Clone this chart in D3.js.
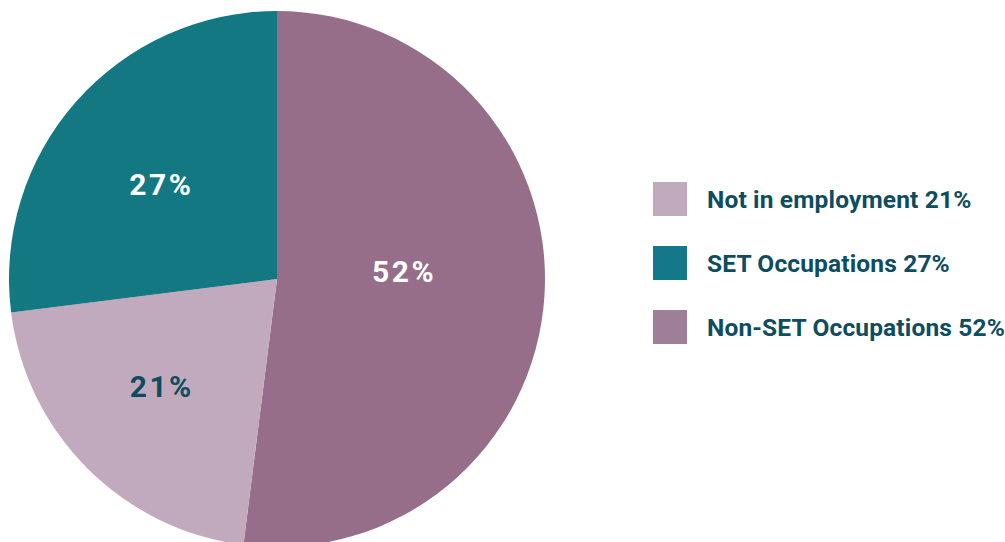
<!DOCTYPE html>
<html>
<head>
<meta charset="utf-8">
<script src="https://cdn.jsdelivr.net/npm/d3@7"></script>
<style>
  html, body { margin: 0; padding: 0; background: #ffffff; }
  svg { display: block; }
</style>
</head>
<body>
<svg id="chart" width="1005" height="542"></svg>
<script>
// Data (drawing order: clockwise from top)
const pieCategories = ["Non-SET Occupations", "Not in employment", "SET Occupations"];
const pieValues = [52, 21, 27];
const pieColors = ["#966e8a", "#c2aabe", "#137882"];
const labelColors = ["#ffffff", "#0e4d5f", "#ffffff"];

// Legend order
const legendCategories = ["Not in employment", "SET Occupations", "Non-SET Occupations"];
const legendValues = [21, 27, 52];
const legendColors = ["#c2aabe", "#15788a", "#9f7e9a"];

const svg = d3.select("#chart");
const cx = 277, cy = 279, R = 268;
// label placement style: radius (fraction of R) and angle offset (degrees) from slice mid-angle
const labelRadiusFactor = [0.475, 0.59, 0.555];
const labelAngleOffset = [-6.8, 1.8, -2.4];

const pie = d3.pie().sort(null).value(d => d.value);
const data = pieCategories.map((c, i) => ({ name: c, value: pieValues[i], color: pieColors[i], labelColor: labelColors[i], lf: labelRadiusFactor[i], ao: labelAngleOffset[i] }));
const arcs = pie(data);
const arc = d3.arc().innerRadius(0).outerRadius(R);

const g = svg.append("g").attr("transform", `translate(${cx},${cy})`);
g.selectAll("path.slice").data(arcs).enter().append("path")
  .attr("class", "slice")
  .attr("d", arc)
  .attr("fill", d => d.data.color);

g.selectAll("text.lbl").data(arcs).enter().append("text")
  .attr("class", "lbl")
  .attr("transform", d => {
    const r = R * d.data.lf;
    const a = (d.startAngle + d.endAngle) / 2 + d.data.ao * Math.PI / 180;
    return `translate(${r * Math.sin(a)},${-r * Math.cos(a)})`;
  })
  .attr("text-anchor", "middle")
  .attr("dy", "0.33em")
  .attr("font-family", "Roboto, sans-serif")
  .attr("font-weight", "bold")
  .attr("font-size", 30)
  .attr("letter-spacing", 2.5)
  .attr("fill", d => d.data.labelColor)
  .text(d => d.data.value + "%");

// Legend
const legY = d3.scaleBand().domain(legendCategories).range([182 - 15, 344 + 15]).paddingInner(0).paddingOuter(0);
const leg = svg.append("g");
const items = leg.selectAll("g").data(legendCategories).enter().append("g")
  .attr("transform", (d, i) => `translate(653,${legY(d) + legY.bandwidth() / 2})`);
items.append("rect")
  .attr("x", 0).attr("y", -17).attr("width", 34).attr("height", 34)
  .attr("fill", (d, i) => legendColors[i]);
items.append("text")
  .attr("x", 54).attr("y", 0).attr("dy", "0.35em")
  .attr("font-family", "Roboto, sans-serif")
  .attr("font-weight", "bold")
  .attr("font-size", 24.5)
  .attr("letter-spacing", 0.15)
  .attr("fill", "#0e4d5f")
  .text((d, i) => `${d} ${legendValues[i]}%`);
</script>
</body>
</html>
